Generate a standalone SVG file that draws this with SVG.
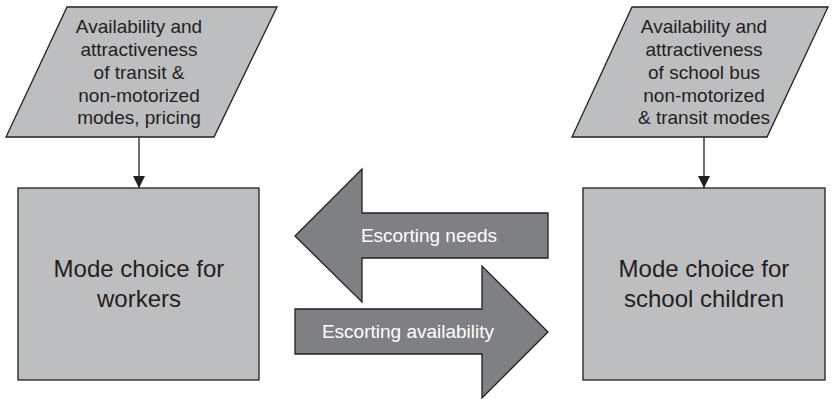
<svg xmlns="http://www.w3.org/2000/svg" width="832" height="399" viewBox="0 0 832 399">
  <style>
    .box { fill: #bdbec0; stroke: #231f20; stroke-width: 1.3; }
    .big { fill: #7f8083; stroke: #231f20; stroke-width: 1.3; }
    .t { font-family: "Liberation Sans", Arial, sans-serif; fill: #231f20; text-anchor: middle; }
    .in { font-size: 19px; }
    .main { font-size: 24px; }
    .w { font-family: "Liberation Sans", Arial, sans-serif; fill: #ffffff; font-size: 19px; text-anchor: middle; }
    .link { stroke: #231f20; stroke-width: 1.3; fill: none; marker-end: url(#head); }
  </style>
  <defs>
    <marker id="head" markerWidth="12" markerHeight="12" refX="12" refY="6" orient="auto" markerUnits="userSpaceOnUse">
      <path d="M0,0 L12,6 L0,12 Z" fill="#231f20"/>
    </marker>
  </defs>
  <rect width="832" height="399" fill="#ffffff"/>

  <!-- inputs for workers -->
  <g id="workers-input">
    <polygon class="box" points="67,7 277,7 214,137 6,137"/>
    <text class="t in" x="139" y="33">Availability and</text>
    <text class="t in" x="139" y="56">attractiveness</text>
    <text class="t in" x="139" y="79">of transit &amp;</text>
    <text class="t in" x="139" y="102">non-motorized</text>
    <text class="t in" x="139" y="124">modes, pricing</text>
  </g>

  <!-- inputs for school children -->
  <g id="children-input">
    <polygon class="box" points="632,7 828,7 767,137 572,137"/>
    <text class="t in" x="704" y="33">Availability and</text>
    <text class="t in" x="704" y="56">attractiveness</text>
    <text class="t in" x="704" y="79">of school bus</text>
    <text class="t in" x="704" y="102">non-motorized</text>
    <text class="t in" x="704" y="124">&amp; transit modes</text>
  </g>

  <g id="workers">
    <rect class="box" x="18" y="188" width="241" height="192"/>
    <text class="t main" x="139" y="277">Mode choice for</text>
    <text class="t main" x="139" y="307">workers</text>
  </g>

  <g id="children">
    <rect class="box" x="583" y="188" width="242" height="192"/>
    <text class="t main" x="704" y="277">Mode choice for</text>
    <text class="t main" x="704" y="307">school children</text>
  </g>

  <g id="connectors">
    <line class="link" x1="139" y1="137" x2="139" y2="188"/>
    <line class="link" x1="704" y1="137" x2="704" y2="188"/>

    <g id="escorting-needs">
      <polygon class="big" points="295,236 362,169 362,213 548,213 548,258 362,258 362,302"/>
      <text class="w" x="429" y="242">Escorting needs</text>
    </g>
    <g id="escorting-availability">
      <polygon class="big" points="295,309 482,309 482,266 548,332 482,398 482,354 295,354"/>
      <text class="w" x="408" y="338">Escorting availability</text>
    </g>
  </g>
</svg>
